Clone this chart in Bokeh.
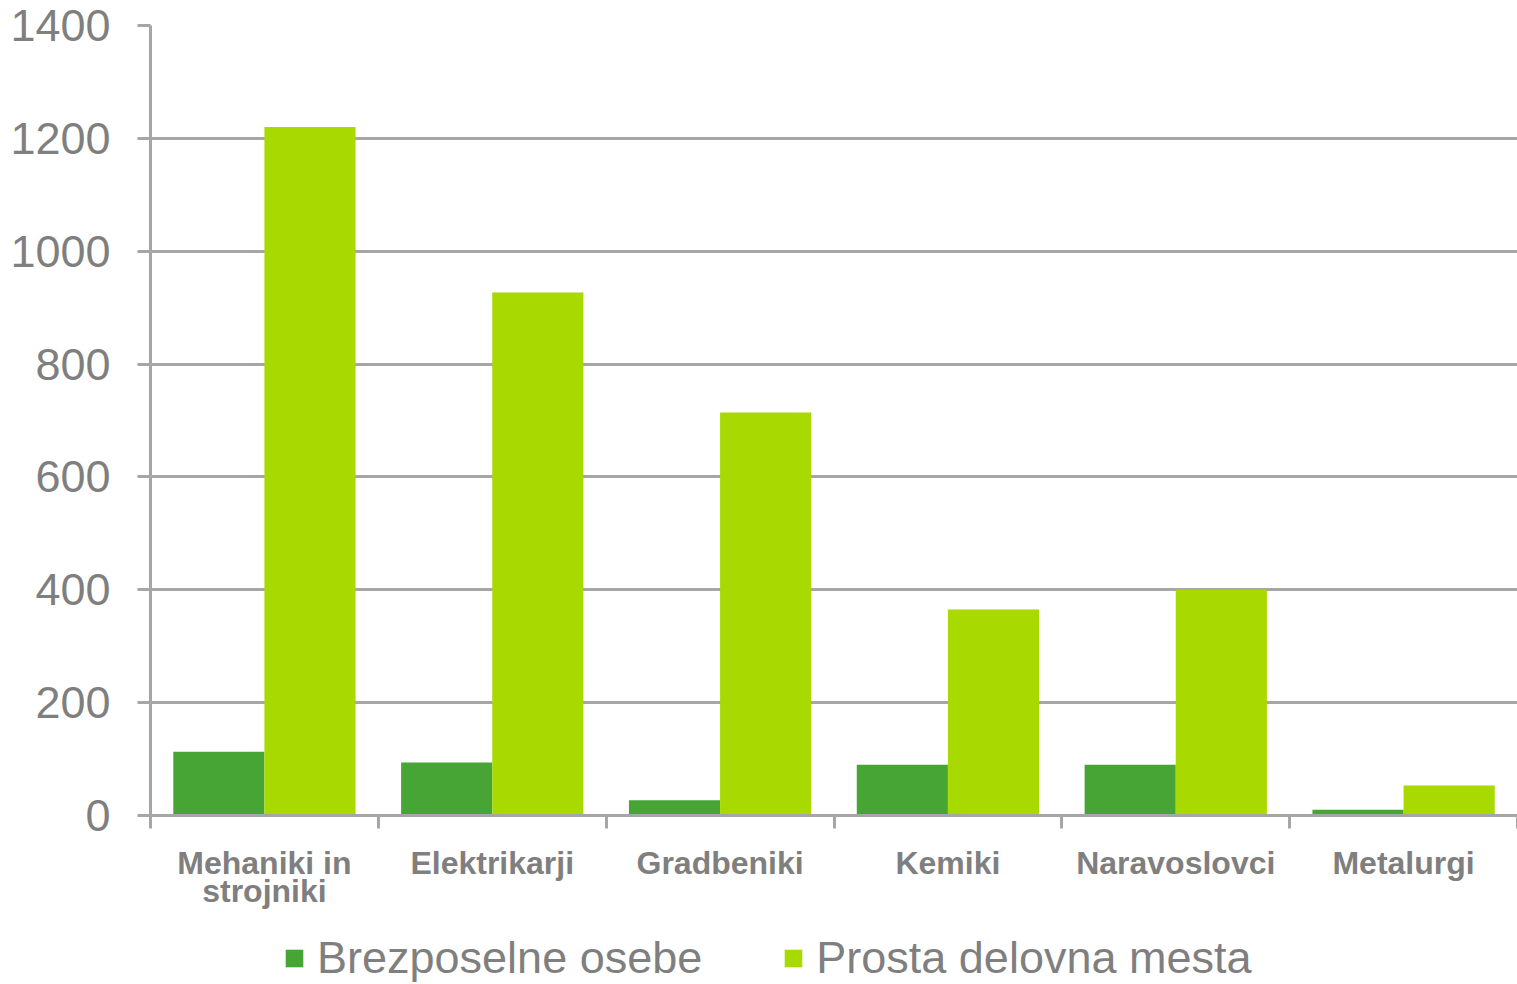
from bokeh.plotting import figure
from bokeh.models import (ColumnDataSource, Range1d, LinearAxis, FixedTicker,
                          Legend, LegendItem)
from bokeh.layouts import column
from bokeh.transform import dodge
from bokeh.embed import file_html
from bokeh.resources import INLINE

categories = ["Mehaniki in\nstrojniki", "Elektrikarji", "Gradbeniki", "Kemiki",
              "Naravoslovci", "Metalurgi"]
brezposelne = [113, 94, 27, 90, 90, 10]
prosta_mesta = [1220, 927, 714, 365, 400, 53]
series_names = ["Brezposelne osebe", "Prosta delovna mesta"]
y_ticks = [0, 200, 400, 600, 800, 1000, 1200, 1400]

DARK = "#46a535"
LIGHT = "#a8d900"
GREY = "#a6a6a6"
TEXT = "#7f7f7f"
FONT = "Liberation Sans"

n = len(categories)
centers = [i + 0.5 for i in range(n)]
src = ColumnDataSource(dict(pos=centers, a=brezposelne, b=prosta_mesta))

p = figure(width=1517, height=924, output_backend="svg", toolbar_location=None,
           x_range=Range1d(0, n), y_range=Range1d(0, 1400), x_axis_location=None,
           min_border_left=150, min_border_top=25, min_border_bottom=109,
           min_border_right=0)
p.outline_line_color = None
p.xgrid.grid_line_color = None
p.ygrid.grid_line_color = GREY
p.ygrid.grid_line_width = 3
p.ygrid.ticker = FixedTicker(ticks=y_ticks)

p.vbar(x=dodge("pos", -0.2), top="a", width=0.4, source=src,
       fill_color=DARK, line_color=None)
p.vbar(x=dodge("pos", 0.2), top="b", width=0.4, source=src,
       fill_color=LIGHT, line_color=None)

# y axis
ya = p.yaxis[0]
ya.ticker = FixedTicker(ticks=y_ticks)
ya.axis_line_color = GREY
ya.axis_line_width = 3
ya.major_tick_line_color = GREY
ya.major_tick_line_width = 3
ya.major_tick_out = 13
ya.major_tick_in = 0
ya.minor_tick_line_color = None
ya.major_label_standoff = 27
ya.major_label_text_font = FONT
ya.major_label_text_font_size = "45px"
ya.major_label_text_color = TEXT

# boundary ticks axis
ea = LinearAxis(ticker=FixedTicker(ticks=list(range(n + 1))))
ea.axis_line_color = GREY
ea.axis_line_width = 3
ea.major_tick_line_color = GREY
ea.major_tick_line_width = 3
ea.major_tick_out = 13
ea.major_tick_in = 0
ea.minor_tick_line_color = None
ea.major_label_text_font_size = "1px"
ea.major_label_text_color = None
ea.major_label_standoff = 0
p.add_layout(ea, "below")

# category labels axis
ca = LinearAxis(ticker=FixedTicker(ticks=centers),
                major_label_overrides={c: lab for c, lab in zip(centers, categories)})
ca.axis_line_color = None
ca.major_tick_line_color = None
ca.minor_tick_line_color = None
ca.major_tick_out = 0
ca.major_tick_in = 0
ca.major_label_standoff = 16
ca.major_label_text_font = FONT
ca.major_label_text_font_style = "bold"
ca.major_label_text_font_size = "32px"
ca.major_label_text_color = TEXT
ca.major_label_text_line_height = 0.8
p.add_layout(ca, "below")

# legend strip
q = figure(width=1517, height=60, output_backend="svg", toolbar_location=None,
           x_range=Range1d(0, 1), y_range=Range1d(0, 1),
           x_axis_location=None, y_axis_location=None,
           min_border_left=0, min_border_right=0, min_border_top=0,
           min_border_bottom=0)
q.outline_line_color = None
q.grid.grid_line_color = None
placeholder = ColumnDataSource(dict(pos=[float("nan")], a=[float("nan")]))
k1 = q.vbar(x="pos", top="a", width=0.4, source=placeholder,
            fill_color=DARK, line_color=None)
k2 = q.vbar(x="pos", top="a", width=0.4, source=placeholder,
            fill_color=LIGHT, line_color=None)

legend = Legend(items=[LegendItem(label=series_names[0], renderers=[k1]),
                       LegendItem(label=series_names[1], renderers=[k2])],
                location=(133, 0), orientation="horizontal",
                glyph_width=22, glyph_height=22, label_standoff=12, spacing=80,
                padding=0, margin=0, border_line_color=None,
                background_fill_alpha=0,
                label_text_font=FONT, label_text_font_size="45px",
                label_text_color=TEXT)
q.add_layout(legend)

open("out.html", "w").write(file_html(column(p, q, spacing=0), INLINE))
